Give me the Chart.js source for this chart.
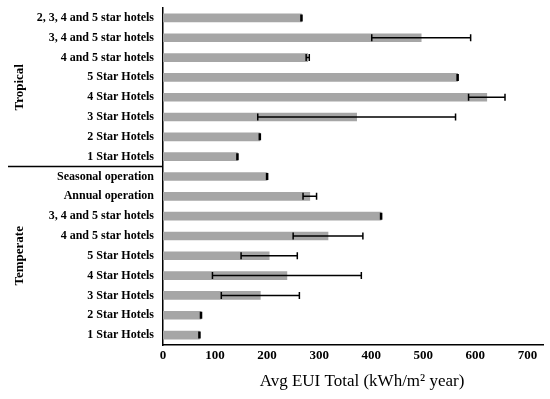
<!DOCTYPE html>
<html>
<head>
<meta charset="utf-8">
<script src="https://cdn.jsdelivr.net/npm/chart.js@4.4.1/dist/chart.umd.min.js"></script>
<style>
  html, body { margin: 0; padding: 0; background: #fff; }
  #wrap { width: 550px; height: 399px; }
</style>
</head>
<body>
<div id="wrap"><canvas id="myChart" width="550" height="399"></canvas></div>
<script>
const tropicalLabels = [
  "2, 3, 4 and 5 star hotels",
  "3, 4 and 5 star hotels",
  "4 and 5 star hotels",
  "5 Star Hotels",
  "4 Star Hotels",
  "3 Star Hotels",
  "2 Star Hotels",
  "1 Star Hotels",
];
const temperateLabels = [
  "Seasonal operation",
  "Annual operation",
  "3, 4 and 5 star hotels",
  "4 and 5 star hotels",
  "5 Star Hotels",
  "4 Star Hotels",
  "3 Star Hotels",
  "2 Star Hotels",
  "1 Star Hotels",
];
const tropicalValues = [266, 496, 278, 566, 622, 372, 186, 143];
const tropicalErrors = [1, 95, 3, 1, 35, 190, 1, 1];
const temperateValues = [200, 282, 419, 317, 204, 238, 187, 73, 70];
const temperateErrors = [1, 13, 1, 67, 54, 143, 75, 1, 1];
const xTicks = [0, 100, 200, 300, 400, 500, 600, 700];

const labels = tropicalLabels.concat(temperateLabels);
const values = tropicalValues.concat(temperateValues);
const errors = tropicalErrors.concat(temperateErrors);

const serif = "'Liberation Serif', 'Times New Roman', serif";
const xTitle = "Avg EUI Total (kWh/m² year)";

// error bars, climate group labels and the x axis title
const extras = {
  id: "extras",
  afterDatasetsDraw(chart) {
    const { ctx, scales, chartArea } = chart;
    const x = scales.x;
    const y = scales.y;
    ctx.save();
    ctx.strokeStyle = "#000";
    ctx.lineWidth = 1.5;
    values.forEach((v, i) => {
      const e = errors[i];
      if (!e) return;
      const py = y.getPixelForValue(i);
      const x1 = x.getPixelForValue(v - e);
      const x2 = x.getPixelForValue(v + e);
      ctx.beginPath();
      ctx.moveTo(x1, py);
      ctx.lineTo(x2, py);
      ctx.moveTo(x1, py - 3.5);
      ctx.lineTo(x1, py + 3.5);
      ctx.moveTo(x2, py - 3.5);
      ctx.lineTo(x2, py + 3.5);
      ctx.stroke();
    });

    // separator between groups
    const n = tropicalLabels.length;
    const sepY = (y.getPixelForValue(n - 1) + y.getPixelForValue(n)) / 2;
    ctx.beginPath();
    ctx.moveTo(8, sepY);
    ctx.lineTo(chartArea.left, sepY);
    ctx.stroke();

    const groups = [
      ["Tropical", chartArea.top, sepY],
      ["Temperate", sepY, chartArea.bottom],
    ];
    ctx.fillStyle = "#000";
    ctx.font = "bold 13px " + serif;
    ctx.textAlign = "center";
    ctx.textBaseline = "middle";
    groups.forEach(([text, a, b]) => {
      ctx.save();
      ctx.translate(20, (a + b) / 2);
      ctx.rotate(-Math.PI / 2);
      ctx.fillText(text, 0, 0);
      ctx.restore();
    });

    ctx.font = "17px " + serif;
    ctx.fillText(xTitle, (chartArea.left + chartArea.right) / 2 + 9, chartArea.bottom + 37);
    ctx.restore();
  },
};

const ctx = document.getElementById("myChart");

new Chart(ctx, {
  type: "bar",
  data: {
    labels,
    datasets: [
      {
        data: values,
        backgroundColor: "#a6a6a6",
        barThickness: 8,
      },
    ],
  },
  options: {
    indexAxis: "y",
    responsive: false,
    animation: false,
    layout: { padding: { top: 8, right: 7, left: 0, bottom: 0 } },
    plugins: {
      legend: { display: false },
      tooltip: { enabled: false },
    },
    scales: {
      x: {
        min: 0,
        max: 730,
        afterBuildTicks: (scale) => {
          scale.ticks = xTicks.map((v) => ({ value: v }));
        },
        afterFit: (scale) => {
          scale.height = 54;
        },
        grid: { display: false, drawTicks: false },
        border: { display: true, color: "#000", width: 1.5 },
        ticks: {
          color: "#000",
          padding: 3,
          font: { family: serif, size: 13, weight: "bold" },
        },
      },
      y: {
        afterFit: (scale) => {
          scale.width = 163;
          scale.paddingTop = 0;
          scale.paddingBottom = 0;
        },
        grid: { display: false, drawTicks: false },
        border: { display: true, color: "#000", width: 1.5 },
        ticks: {
          color: "#000",
          padding: 9,
          autoSkip: false,
          font: { family: serif, size: 12, weight: "bold" },
        },
      },
    },
  },
  plugins: [extras],
});
</script>
</body>
</html>
